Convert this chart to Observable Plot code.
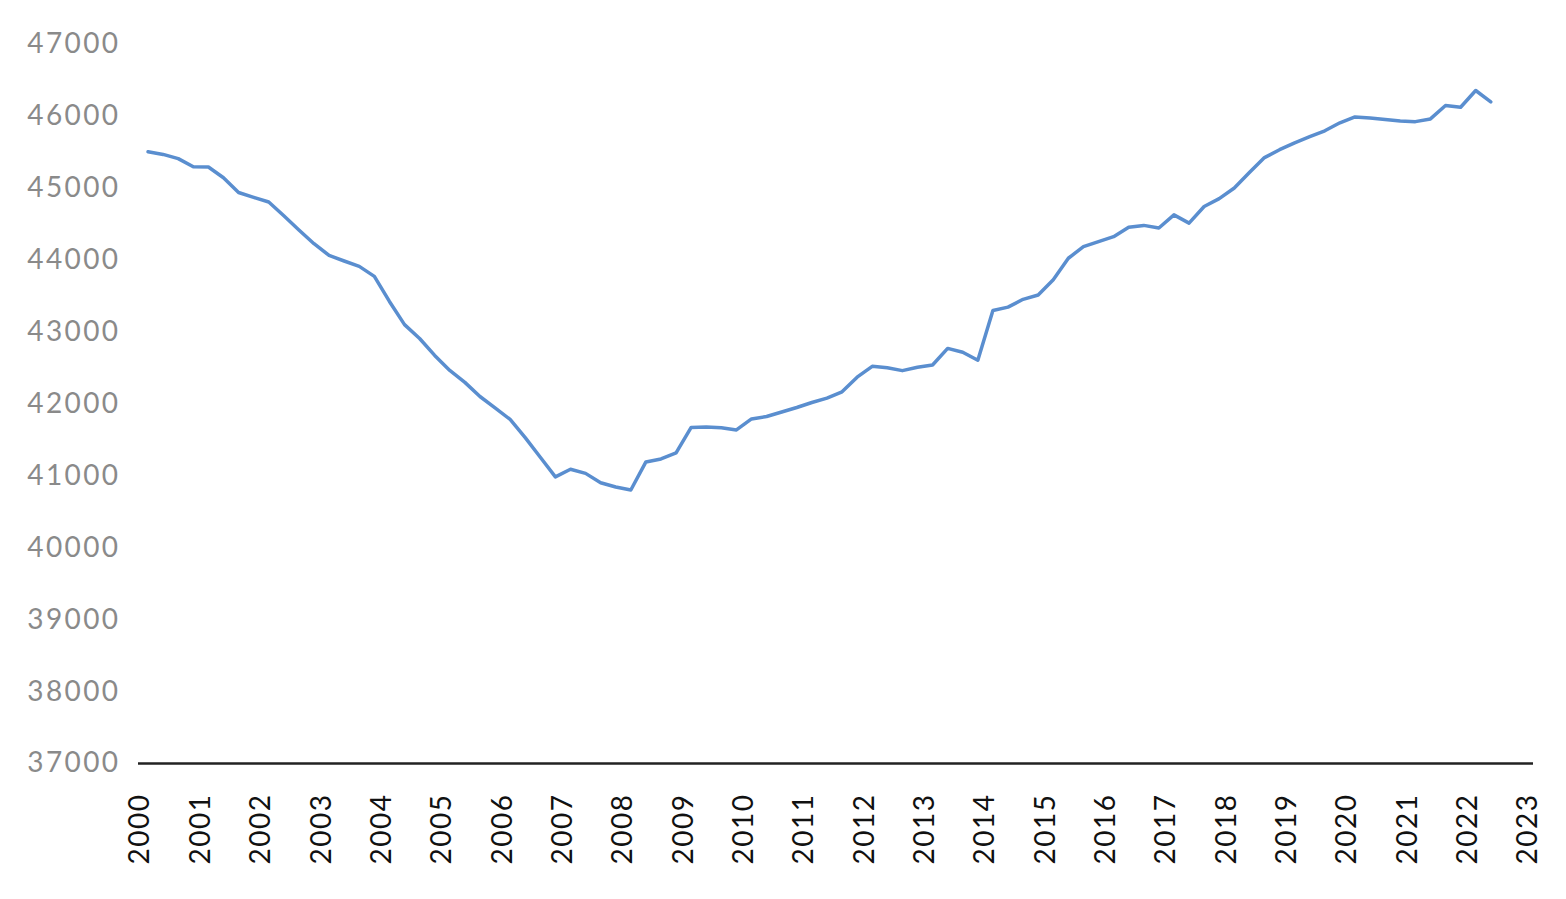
<!DOCTYPE html>
<html>
<head>
<meta charset="utf-8">
<script src="https://cdn.jsdelivr.net/npm/d3@7"></script>
<script src="https://cdn.jsdelivr.net/npm/@observablehq/plot@0.6"></script>
<style>
  html, body { margin: 0; padding: 0; background: #ffffff; }
  #chart svg { display: block; }
  #chart svg text { letter-spacing: 1.5px; }
  #chart svg g[aria-label="y-axis tick label"] text { letter-spacing: 2.4px; }
</style>
</head>
<body>
<div id="chart"></div>
<script>
// Quarterly series, 2000 Q1 … 2022 Q2
const startYear = 2000;
const values = [
  45507, 45471, 45413, 45299, 45296, 45147, 44942, 44874,
  44810, 44618, 44421, 44229, 44066, 43989, 43914, 43775,
  43426, 43104, 42911, 42676, 42467, 42301, 42104, 41946,
  41785, 41533, 41260, 40986, 41093, 41035, 40905, 40845,
  40804, 41194, 41236, 41319, 41674, 41681, 41669, 41639,
  41792, 41826, 41889, 41951, 42021, 42081, 42169, 42373,
  42524, 42503, 42464, 42511, 42543, 42773, 42720, 42609,
  43301, 43347, 43456, 43516, 43729, 44027, 44189, 44259,
  44327, 44458, 44484, 44448, 44630, 44516, 44747, 44856,
  45004, 45220, 45427, 45537, 45633, 45717, 45800, 45911,
  45992, 45979, 45956, 45937, 45927, 45965, 46151, 46127,
  46360, 46201
];
const quarters = d3.range(values.length).map(i => startYear + (i + 0.5) / 4);
const yTicks = [37000, 38000, 39000, 40000, 41000, 42000, 43000, 44000, 45000, 46000, 47000];
const xTicks = d3.range(2000, 2024);

const data = values.map((v, i) => ({ t: quarters[i], v }));

const chart = Plot.plot({
  width: 1566,
  height: 899,
  marginLeft: 140,
  marginRight: 38,
  marginTop: 44,
  marginBottom: 136,
  style: { fontFamily: "Lato, 'Open Sans', sans-serif", fontSize: "28px", background: "#ffffff" },
  x: { domain: [2000, 2023], label: null },
  y: { domain: [37000, 47000], label: null },
  marks: [
    Plot.axisY({
      ticks: yTicks, tickFormat: d => String(d), tickSize: 0, tickPadding: 20,
      fill: "#8a8a8a", fontSize: 28, label: null
    }),
    Plot.axisX({
      ticks: xTicks, tickFormat: d => String(d), tickSize: 0, tickPadding: 30,
      tickRotate: -90, fill: "#111111", fontSize: 28, label: null
    }),
    Plot.ruleY([37000], { stroke: "#222222", strokeWidth: 2.5, insetLeft: -2, insetRight: -5 }),
    Plot.lineY(data, { x: "t", y: "v", stroke: "#5a8ecf", strokeWidth: 3.5, strokeLinejoin: "round", strokeLinecap: "round" })
  ]
});

document.getElementById("chart").appendChild(chart);
</script>
</body>
</html>
